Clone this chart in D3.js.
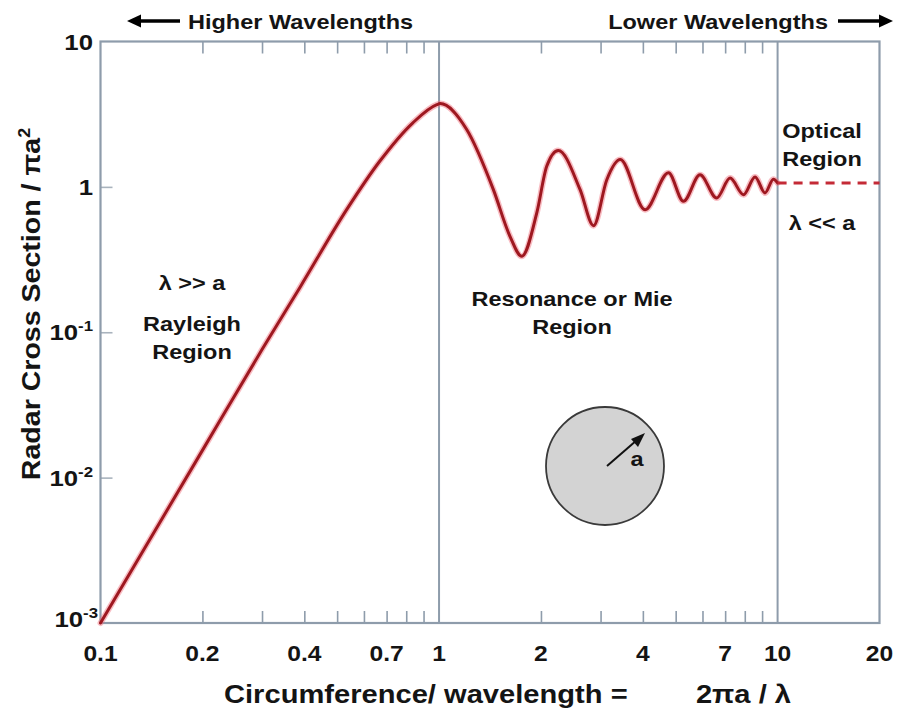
<!DOCTYPE html>
<html>
<head>
<meta charset="utf-8">
<script src="https://cdn.jsdelivr.net/npm/d3@7"></script>
<style>
  body { margin: 0; background: #fff; }
  svg { display: block; }
  text { font-family: "Liberation Sans", Arial, Helvetica, sans-serif; font-weight: bold; fill: #141414; }
</style>
</head>
<body>
<svg id="chart" width="903" height="713"></svg>
<script>
// Normalised radar cross section of a conducting sphere vs. circumference/wavelength
const sizeParam = [0.1, 0.2, 0.3, 0.389, 0.534, 0.668, 0.837, 0.985, 1.007, 1.207, 1.447, 1.62, 1.755, 1.944, 2.08, 2.25,
                   2.61, 2.86, 3.13, 3.43, 4.06, 4.76, 5.27, 5.90, 6.61, 7.24, 7.93, 8.58, 9.18, 9.72, 10];
const rcs       = [0.001, 0.0154, 0.076, 0.205, 0.70, 1.50, 2.76, 3.68, 3.74, 2.48, 0.957, 0.457, 0.333, 0.662, 1.385, 1.78,
                   0.957, 0.541, 1.12, 1.54, 0.697, 1.25, 0.795, 1.21, 0.839, 1.15, 0.884, 1.17, 0.909, 1.13, 1.065];

// Optical (geometric) limit, drawn dashed
const opticalX = [10, 20];
const opticalY = [1.065, 1.065];

// Axis ticks
const xTickValues = [0.1, 0.2, 0.4, 0.7, 1, 2, 4, 7, 10, 20];
const xMinorTicks = [0.2, 0.3, 0.4, 0.5, 0.6, 0.7, 0.8, 0.9, 2, 3, 4, 5, 6, 7, 8, 9];
const xGridLines  = [1, 10];
const yTickValues = [10, 1, 0.1, 0.01, 0.001];
const yTickBase   = ["10", "1", "10", "10", "10"];
const yTickExp    = ["", "", "-1", "-2", "-3"];
const yInnerTicks = [1, 0.1, 0.01];

const svg = d3.select("#chart");
const x = d3.scaleLog().domain([0.1, 20]).range([100.5, 879.5]);
const y = d3.scaleLog().domain([0.001, 10]).range([623, 41.5]);

const axisColor = "#8e9cab";
const SX = 1.12; // lettering is set slightly wide

function label(px, py, str, size, anchor = "middle") {
  return svg.append("text")
    .attr("transform", `translate(${px},${py}) scale(${SX},1)`)
    .attr("text-anchor", anchor)
    .style("font-size", size + "px")
    .text(str);
}

// Minor ticks along bottom and top edges
const xAxisBottom = d3.axisBottom(x).tickValues(xMinorTicks).tickSize(-12).tickFormat("");
const xAxisTop = d3.axisTop(x).tickValues(xMinorTicks).tickSize(-12).tickFormat("");
const gB = svg.append("g").attr("transform", `translate(0,${y(0.001)})`).call(xAxisBottom);
const gT = svg.append("g").attr("transform", `translate(0,${y(10)})`).call(xAxisTop);
[gB, gT].forEach(g => {
  g.select(".domain").remove();
  g.selectAll(".tick line").attr("stroke", axisColor).attr("stroke-width", 1.6);
});

// Inner ticks on the left axis
const yAxisLeft = d3.axisLeft(y).tickValues(yInnerTicks).tickSize(-12).tickFormat("");
const gL = svg.append("g").attr("transform", `translate(${x(0.1)},0)`).call(yAxisLeft);
gL.select(".domain").remove();
gL.selectAll(".tick line").attr("stroke", "#a9b3bd").attr("stroke-width", 1.6);

// Region dividers
svg.selectAll("line.grid").data(xGridLines).join("line")
  .attr("class", "grid")
  .attr("x1", d => x(d)).attr("x2", d => x(d))
  .attr("y1", y(10)).attr("y2", y(0.001))
  .attr("stroke", axisColor).attr("stroke-width", 2);

// Frame
svg.append("rect")
  .attr("x", x(0.1)).attr("y", y(10))
  .attr("width", x(20) - x(0.1)).attr("height", y(0.001) - y(10))
  .attr("fill", "none").attr("stroke", axisColor).attr("stroke-width", 2.2);

// X tick labels
xTickValues.forEach(v => label(x(v), 661, String(v), 22));

// Y tick labels with exponents
yTickValues.forEach((v, i) => {
  const t = svg.append("text")
    .attr("transform", `translate(${i === 4 ? 98 : 93},${y(v) + (i === 4 ? 4 : 8)}) scale(${SX},1)`)
    .attr("text-anchor", "end")
    .style("font-size", "23px");
  t.append("tspan").text(yTickBase[i]);
  if (yTickExp[i]) t.append("tspan").attr("dy", -9).style("font-size", "15px").text(yTickExp[i]);
});

// Axis titles
const yTitle = svg.append("text")
  .attr("transform", `translate(40,304) rotate(-90) scale(${SX},1)`)
  .attr("text-anchor", "middle")
  .style("font-size", "25.5px");
yTitle.append("tspan").text("Radar Cross Section / \u03C0a");
yTitle.append("tspan").attr("dy", -10).style("font-size", "16px").text("2");

label(224, 703, "Circumference/ wavelength =", 26, "start");
label(791, 703, "2\u03C0a / \u03BB", 26, "end");

// Wavelength direction notes
label(188, 29, "Higher Wavelengths", 21, "start");
label(828, 29, "Lower Wavelengths", 21, "end");

function arrow(x1, x2, yy) {
  const dir = Math.sign(x2 - x1);
  svg.append("line").attr("x1", x1).attr("x2", x2 - dir * 8).attr("y1", yy).attr("y2", yy)
    .attr("stroke", "#000").attr("stroke-width", 3.5);
  svg.append("path")
    .attr("d", `M${x2},${yy} L${x2 - dir * 14},${yy - 6.5} L${x2 - dir * 14},${yy + 6.5} Z`)
    .attr("fill", "#000");
}
arrow(180, 127, 21);
arrow(838, 893, 21);

// Region annotations
label(192, 290, "\u03BB >> a", 21);
label(192, 331, "Rayleigh", 21);
label(192, 359, "Region", 21);
label(572, 306, "Resonance or Mie", 21);
label(572, 334, "Region", 21);
label(822, 138, "Optical", 21);
label(822, 166, "Region", 21);
label(822, 230, "\u03BB << a", 21);

// RCS curve
const line = d3.line()
  .x((d, i) => x(sizeParam[i]))
  .y(d => y(d))
  .curve(d3.curveMonotoneX);

svg.append("path").datum(rcs)
  .attr("d", line).attr("fill", "none")
  .attr("stroke", "#f06a78").attr("stroke-opacity", 0.45).attr("stroke-width", 6)
  .attr("stroke-linejoin", "round").attr("stroke-linecap", "round");
svg.append("path").datum(rcs)
  .attr("d", line).attr("fill", "none")
  .attr("stroke", "#9e1820").attr("stroke-width", 3)
  .attr("stroke-linejoin", "round").attr("stroke-linecap", "round");

// Optical-region asymptote
const optLine = d3.line().x((d, i) => x(opticalX[i])).y(d => y(d));
svg.append("path").datum(opticalY)
  .attr("d", optLine).attr("fill", "none")
  .attr("stroke", "#c42a36").attr("stroke-width", 3)
  .attr("stroke-dasharray", "9 7");

// Sphere of radius a
const sphere = svg.append("g").attr("transform", "translate(605,466)");
sphere.append("circle").attr("r", 59)
  .attr("fill", "#d3d3d3").attr("stroke", "#3a3a3a").attr("stroke-width", 1.8);
sphere.append("line").attr("x1", 2).attr("y1", 0).attr("x2", 32).attr("y2", -26)
  .attr("stroke", "#111").attr("stroke-width", 2);
sphere.append("path").attr("d", "M40,-33 L26,-27 L33,-19 Z").attr("fill", "#111");
sphere.append("text")
  .attr("transform", `translate(32,0) scale(${SX},1)`)
  .attr("text-anchor", "middle")
  .style("font-size", "21px")
  .text("a");
</script>
</body>
</html>
